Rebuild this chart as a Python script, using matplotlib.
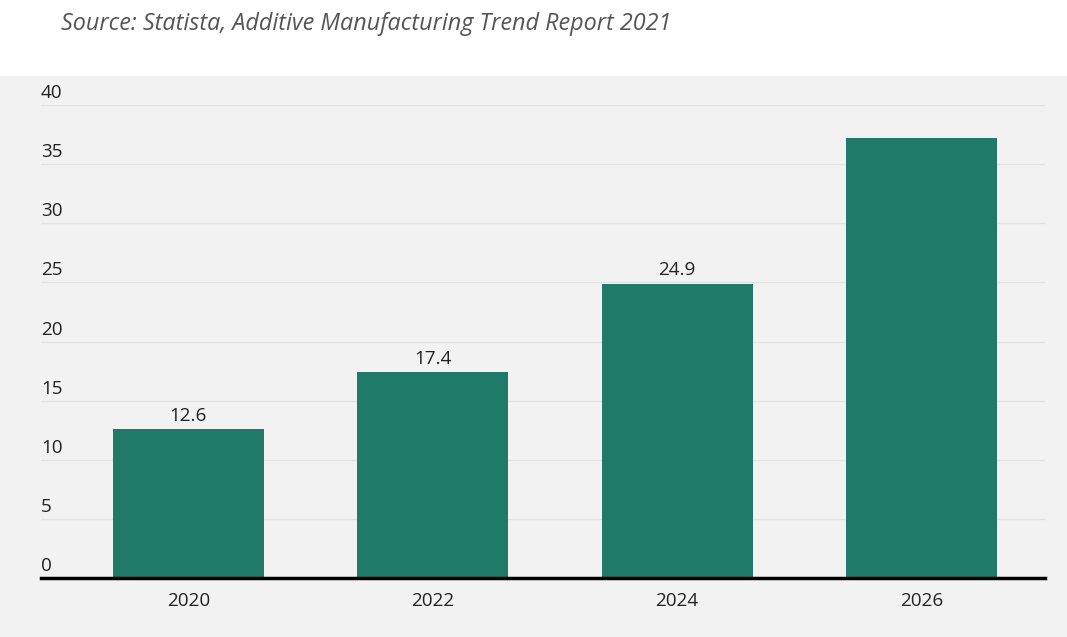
import matplotlib
matplotlib.use("Agg")
import matplotlib.pyplot as plt
from matplotlib.patches import Rectangle

years = ["2020", "2022", "2024", "2026"]
values = [12.6, 17.4, 24.9, 37.2]
labels = ["12.6", "17.4", "24.9", ""]  # 2026 label is not shown in the source
yticks = [0, 5, 10, 15, 20, 25, 30, 35, 40]
source = "Source: Statista, Additive Manufacturing Trend Report 2021"

BG = "#f2f2f2"
BAR = "#1f7a6a"
TXT = "#222222"

plt.rcParams["font.family"] = ["Open Sans", "DejaVu Sans"]

W, H = 1067, 637
fig = plt.figure(figsize=(W / 100, H / 100), dpi=100, facecolor="white")
fig.patches.append(Rectangle((0, 0), 1, 1 - 76 / H, transform=fig.transFigure,
                             facecolor=BG, edgecolor="none", zorder=-10))
fig.text(61 / W, 1 - 24 / H, source, fontsize=16.8, style="italic", color="#555555",
         va="center", ha="left")

ax = fig.add_axes([41 / W, 1 - 578 / H, (1045 - 41) / W, (578 - 105) / H])
ax.set_facecolor(BG)
x = list(range(len(years)))
ax.bar(x, values, width=0.617, color=BAR, edgecolor="none", zorder=2)
for xi, v, lab in zip(x, values, labels):
    if lab:
        ax.text(xi, v + 0.35, lab, ha="center", va="bottom", fontsize=13.6, color=TXT)

ax.set_xlim(-0.603, 3.505)
ax.set_ylim(0, 40)
for t in yticks:
    if t > 0:
        ax.axhline(t, color="#e3e3e3", lw=1, zorder=1)
    ax.text(0, t + 0.25, str(t), transform=ax.get_yaxis_transform(), ha="left", va="bottom",
            fontsize=13.6, color=TXT, clip_on=False)
ax.axhline(0, color="black", lw=2.5, zorder=3, clip_on=False)

ax.set_yticks([])
ax.set_xticks(x)
ax.set_xticklabels(years, fontsize=13.6, color=TXT)
ax.tick_params(axis="x", length=0, pad=10)
for s in ax.spines.values():
    s.set_visible(False)

fig.savefig("out.png", dpi=100, facecolor="white")
